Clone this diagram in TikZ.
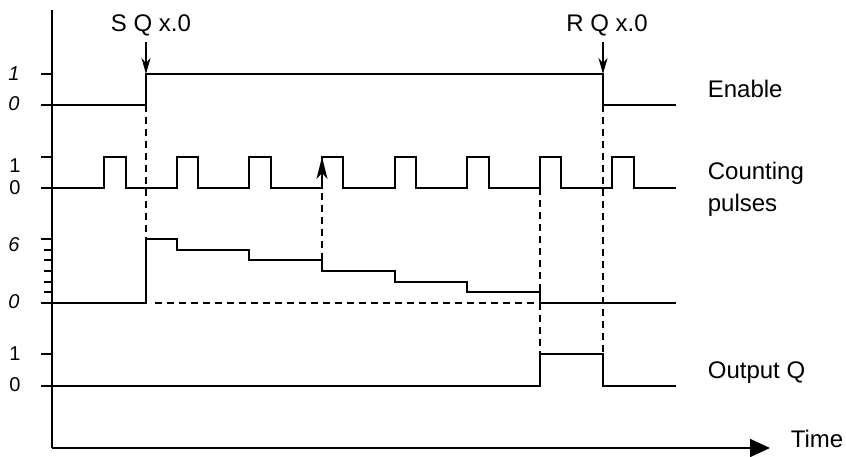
\documentclass[tikz,border=0pt]{standalone}
\usepackage{fontspec}
\setmainfont{Liberation Sans}
\usetikzlibrary{arrows.meta}

\begin{document}
\begin{tikzpicture}[x=1pt,y=-1pt,line width=1.7pt]
  \tikzstyle{label}=[font=\fontsize{24}{28}\selectfont,inner sep=0pt]
  \tikzstyle{level}=[font=\fontsize{20}{22}\selectfont,inner sep=0pt]
  \tikzstyle{guide}=[line width=1.4pt,dash pattern=on 7pt off 5pt]
  \tikzstyle{tick}=[line width=1.4pt]
  \tikzstyle{tip}=[-{Stealth[length=16pt,width=9pt,inset=5pt]}]
  \useasboundingbox (0,0) rectangle (846,457);

  % axes
  \coordinate (top) at (52,10);
  \coordinate (origin) at (52,448);
  \coordinate (tmax) at (770,448);
  \draw (top) -- (origin);
  \draw[-{Triangle[length=20pt,width=18pt]}] (origin) -- (tmax);
  \node[label,anchor=base west] (time) at (790,447) {Time};

  % level ticks and values
  \foreach \y in {74,105,157,188,239,303,354,386}
    \draw[tick] (41,\y) -- (52,\y);
  \foreach \y in {250,260,271,282,292}
    \draw[tick] (44,\y) -- (52,\y);
  \node[level] (en1) at (14,73.5) {\itshape 1};
  \node[level] (en0) at (14,103.5) {\itshape 0};
  \node[level] (cp1) at (15,166) {1};
  \node[level] (cp0) at (15,188) {0};
  \node[level] (cv6) at (14,245) {\itshape 6};
  \node[level] (cv0) at (14,302) {\itshape 0};
  \node[level] (q1) at (15,354) {1};
  \node[level] (q0) at (15,385) {0};

  % Enable
  \draw (52,105) -- (146,105) -- (146,74) -- (603,74) -- (603,105) -- (676,105);
  \node[label,anchor=base west] (enable) at (707,98) {Enable};

  % set / reset
  \node[label,anchor=base] (set) at (151,32) {S Q x.0};
  \node[label,anchor=base] (reset) at (607,32) {R Q x.0};
  \coordinate (setpt) at (146,74);
  \coordinate (resetpt) at (603,74);
  \draw[tip,line width=1.3pt] (set.south -| setpt) ++(0,5) -- (setpt);
  \draw[tip,line width=1.3pt] (reset.south -| resetpt) ++(0,5) -- (resetpt);

  % counting pulses
  \draw (52,188) \foreach \a/\b in {104/126,177/198,249/271,322/343,395/416,467/489,540/561,612/634}{
      -- (\a,188) -- (\a,157) -- (\b,157) -- (\b,188)} -- (676,188);
  \node[label,anchor=base west] (count) at (707,180) {Counting};
  \node[label,anchor=base west] (pulses) at (707,212) {pulses};

  % counter value
  \draw (52,303) -- (146,303) -- (146,239)
    \foreach \a/\u/\v in {177/239/250,249/250/260,322/260/271,395/271/282,467/282/292,540/292/303}{
      -- (\a,\u) -- (\a,\v)} -- (676,303);
  \draw[guide] (155,303) -- (540,303);

  % output Q
  \draw (52,386) -- (540,386) -- (540,354) -- (603,354) -- (603,386) -- (676,386);
  \node[label,anchor=base west] (outq) at (707,378) {Output Q};

  % guide lines
  \coordinate (p3) at (322,157);
  \coordinate (c3) at (322,260);
  \draw[guide] (146,105) -- (146,239);
  \draw[guide,-{Stealth[length=22pt,width=11pt,inset=6pt]}] (c3) -- (p3);
  \draw[guide] (540,188) -- (540,292);
  \draw[guide] (540,303) -- (540,354);
  \draw[guide] (603,105) -- (603,354);
\end{tikzpicture}
\end{document}
